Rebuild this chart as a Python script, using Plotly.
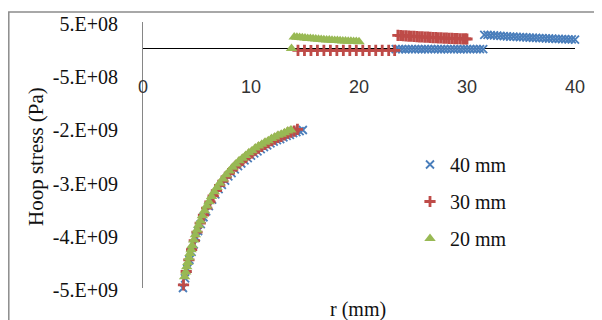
import plotly.graph_objects as go

# ---------------- data (r in mm, hoop stress in Pa) ----------------
series_names = ["40 mm", "30 mm", "20 mm"]

r_40 = [3.7, 3.9, 4.1, 4.3, 4.5, 4.7, 4.9, 5.1, 5.35, 5.6, 5.85, 6.1, 6.4, 6.7, 7.0,
        7.3, 7.6, 7.9, 8.2, 8.5, 8.8, 9.1, 9.4, 9.7, 10.0, 10.3, 10.6, 10.9, 11.2,
        11.5, 11.8, 12.1, 12.4, 12.7, 13.0, 13.3, 13.6, 13.9, 14.2, 14.5, 14.8,
        23.4, 23.7, 24.0, 24.3, 24.6, 24.9, 25.2, 25.5, 25.8, 26.1, 26.4, 26.7, 27.0,
        27.3, 27.6, 27.9, 28.2, 28.5, 28.8, 29.1, 29.4, 29.7, 30.0, 30.3, 30.6, 30.9,
        31.2, 31.5,
        31.6, 31.9, 32.2, 32.5, 32.8, 33.1, 33.4, 33.7, 34.0, 34.3, 34.6, 34.9, 35.2,
        35.5, 35.8, 36.1, 36.4, 36.7, 37.0, 37.3, 37.6, 37.9, 38.2, 38.5, 38.8, 39.1,
        39.4, 39.7, 40.0]
s_40 = [-4.50e9, -4.32e9, -4.14e9, -3.97e9, -3.82e9, -3.68e9, -3.55e9, -3.43e9, -3.30e9,
        -3.17e9, -3.06e9, -2.96e9, -2.84e9, -2.74e9, -2.64e9, -2.56e9, -2.48e9, -2.40e9,
        -2.34e9, -2.27e9, -2.21e9, -2.16e9, -2.10e9, -2.06e9, -2.01e9, -1.97e9, -1.93e9,
        -1.89e9, -1.85e9, -1.82e9, -1.78e9, -1.75e9, -1.72e9, -1.70e9, -1.67e9, -1.64e9,
        -1.62e9, -1.59e9, -1.57e9, -1.55e9, -1.53e9,
        -1.0e7, -1.1e7, -1.0e7, -1.2e7, -1.1e7, -1.0e7, -1.1e7, -1.0e7, -1.2e7, -1.1e7,
        -1.0e7, -1.1e7, -1.0e7, -1.1e7, -1.2e7, -1.0e7, -1.1e7, -1.0e7, -1.1e7, -1.0e7,
        -1.2e7, -1.1e7, -1.0e7, -1.1e7, -1.0e7, -1.1e7, -1.0e7, -1.1e7,
        2.60e8, 2.56e8, 2.51e8, 2.47e8, 2.43e8, 2.39e8, 2.35e8, 2.31e8, 2.27e8, 2.24e8,
        2.20e8, 2.17e8, 2.14e8, 2.10e8, 2.07e8, 2.04e8, 2.01e8, 1.98e8, 1.95e8, 1.92e8,
        1.90e8, 1.87e8, 1.84e8, 1.82e8, 1.79e8, 1.77e8, 1.75e8, 1.72e8, 1.70e8]

r_30 = [3.75, 4.0, 4.25, 4.5, 4.75, 5.0, 5.3, 5.6, 5.9, 6.2, 6.5, 6.8, 7.1, 7.4, 7.7,
        8.0, 8.3, 8.6, 8.9, 9.2, 9.5, 9.8, 10.1, 10.4, 10.7, 11.0, 11.3, 11.6, 11.9,
        12.2, 12.5, 12.8, 13.1, 13.4, 13.7, 14.0, 14.3,
        14.35, 14.95, 15.55, 16.15, 16.75, 17.35, 17.95, 18.55, 19.15, 19.75, 20.35,
        20.95, 21.55, 22.15, 22.75, 23.3,
        23.6, 23.85, 24.1, 24.35, 24.6, 24.85, 25.1, 25.35, 25.6, 25.85, 26.1, 26.35,
        26.6, 26.85, 27.1, 27.35, 27.6, 27.85, 28.1, 28.35, 28.6, 28.85, 29.1, 29.35,
        29.6, 29.85, 30.0]
s_30 = [-4.44e9, -4.19e9, -3.97e9, -3.78e9, -3.61e9, -3.45e9, -3.28e9, -3.13e9, -3.00e9,
        -2.88e9, -2.77e9, -2.67e9, -2.57e9, -2.49e9, -2.41e9, -2.34e9, -2.27e9, -2.21e9,
        -2.15e9, -2.10e9, -2.05e9, -2.00e9, -1.96e9, -1.91e9, -1.87e9, -1.84e9, -1.80e9,
        -1.77e9, -1.73e9, -1.70e9, -1.67e9, -1.65e9, -1.62e9, -1.59e9, -1.57e9, -1.55e9,
        -1.52e9,
        -3.5e7, -3.5e7, -3.6e7, -3.5e7, -3.4e7, -3.5e7, -3.6e7, -3.5e7, -3.4e7, -3.5e7,
        -3.5e7, -3.6e7, -3.5e7, -3.4e7, -3.5e7, -3.5e7,
        2.50e8, 2.46e8, 2.42e8, 2.39e8, 2.35e8, 2.32e8, 2.29e8, 2.26e8, 2.22e8, 2.19e8,
        2.17e8, 2.14e8, 2.11e8, 2.08e8, 2.06e8, 2.03e8, 2.01e8, 1.98e8, 1.96e8, 1.94e8,
        1.91e8, 1.89e8, 1.87e8, 1.85e8, 1.83e8, 1.81e8, 1.80e8]

r_20 = [3.85, 3.95, 4.05, 4.15, 4.25, 4.35, 4.45, 4.55, 4.7, 4.85, 5.0, 5.15, 5.3, 5.5,
        5.7, 5.9, 6.1, 6.35, 6.6, 6.85, 7.1, 7.4, 7.7, 8.0, 8.3, 8.6, 8.9, 9.2, 9.5,
        9.8, 10.1, 10.4, 10.7, 11.0, 11.3, 11.6, 11.9, 12.2, 12.5, 12.8, 13.1, 13.4, 13.7,
        13.75,
        14.0, 14.25, 14.5, 14.75, 15.0, 15.25, 15.5, 15.75, 16.0, 16.25, 16.5, 16.75,
        17.0, 17.25, 17.5, 17.75, 18.0, 18.25, 18.5, 18.75, 19.0, 19.25, 19.5, 19.75, 20.0]
s_20 = [-4.29e9, -4.20e9, -4.10e9, -4.02e9, -3.93e9, -3.85e9, -3.78e9, -3.70e9, -3.60e9,
        -3.50e9, -3.41e9, -3.32e9, -3.24e9, -3.14e9, -3.05e9, -2.96e9, -2.88e9, -2.78e9,
        -2.69e9, -2.61e9, -2.53e9, -2.45e9, -2.37e9, -2.30e9, -2.23e9, -2.17e9, -2.11e9,
        -2.06e9, -2.01e9, -1.96e9, -1.92e9, -1.87e9, -1.83e9, -1.80e9, -1.76e9, -1.73e9,
        -1.69e9, -1.66e9, -1.63e9, -1.61e9, -1.58e9, -1.55e9, -1.53e9,
        0.0,
        2.20e8, 2.14e8, 2.08e8, 2.03e8, 1.97e8, 1.92e8, 1.88e8, 1.83e8, 1.79e8, 1.75e8,
        1.71e8, 1.67e8, 1.63e8, 1.60e8, 1.57e8, 1.53e8, 1.50e8, 1.47e8, 1.45e8, 1.42e8,
        1.39e8, 1.37e8, 1.35e8, 1.32e8, 1.30e8]

x_ticks = [0, 10, 20, 30, 40]
y_ticks = [5e8, -5e8, -1.5e9, -2.5e9, -3.5e9, -4.5e9]
y_tick_labels = ["5.E+08", "-5.E+08", "-2.E+09", "-3.E+09", "-4.E+09", "-5.E+09"]

# ---------------- styling ----------------
SERIF = "Liberation Serif, Times New Roman, serif"
SANS = "Liberation Sans, Arial, sans-serif"
BLUE, RED, GREEN = "#4a7ebb", "#be4b48", "#98b954"

fig = go.Figure()
fig.add_trace(go.Scatter(
    x=r_40, y=s_40, mode="markers", name=series_names[0], legendgroup="a",
    cliponaxis=False,
    marker=dict(symbol="x-thin", size=8, color=BLUE, line=dict(color=BLUE, width=1.8))))
fig.add_trace(go.Scatter(
    x=r_30, y=s_30, mode="markers", name=series_names[1], legendgroup="b",
    cliponaxis=False,
    marker=dict(symbol="cross-thin", size=8, color=RED, line=dict(color=RED, width=2.8))))
fig.add_trace(go.Scatter(
    x=r_20, y=s_20, mode="markers", name=series_names[2], legendgroup="c",
    cliponaxis=False,
    marker=dict(symbol="triangle-up", size=10, color=GREEN, line=dict(width=0))))

# the page body adds an 8px offset; lay out in page pixels and convert
OFF = 8
W, H = 602 - OFF, 320 - OFF
L, R, T, B = 143 - OFF, 602 - 575, 22 - OFF, 320 - 288
pw, ph = W - L - R, H - T - B

def px_x(x):
    return (x - OFF - L) / pw

def px_y(y):
    return (H - B - (y - OFF)) / ph

fig.update_layout(
    width=W, height=H,
    margin=dict(l=L, r=R, t=T, b=B, autoexpand=False),
    paper_bgcolor="white", plot_bgcolor="white",
    showlegend=True,
    legend=dict(x=px_x(410), y=px_y(145), xanchor="left", yanchor="top",
                font=dict(family=SERIF, size=20, color="#111"),
                bgcolor="rgba(0,0,0,0)", tracegroupgap=8, traceorder="grouped",
                itemwidth=30),
    xaxis=dict(range=[0, 40], tickvals=x_ticks, ticktext=[str(v) for v in x_ticks],
               showgrid=False, zeroline=False, showline=False, ticks="",
               anchor="free", position=px_y(74), automargin=False,
               tickfont=dict(family=SANS, size=18, color="#333")),
    yaxis=dict(range=[-4.5e9, 5e8], tickvals=y_ticks, ticktext=y_tick_labels,
               showgrid=False, showline=True, linecolor="#868686", linewidth=1,
               zeroline=True, zerolinecolor="#000000", zerolinewidth=1,
               ticks="", ticklabelstandoff=20, ticklabelshift=2, automargin=False,
               tickfont=dict(family=SERIF, size=20, color="#111")),
    annotations=[
        dict(text="r (mm)", xref="paper", yref="paper", x=px_x(358), y=px_y(309),
             xanchor="center", yanchor="middle", showarrow=False,
             font=dict(family=SERIF, size=20, color="#111")),
        dict(text="Hoop stress (Pa)", xref="paper", yref="paper", x=px_x(36),
             y=px_y(157), xanchor="center", yanchor="middle", textangle=-90,
             showarrow=False, font=dict(family=SERIF, size=21, color="#111")),
    ],
    shapes=[dict(type="rect", xref="paper", yref="paper",
                 x0=px_x(8.8), x1=px_x(640), y0=px_y(360), y1=px_y(12),
                 line=dict(color="#8c8c8c", width=1.5), layer="below")],
)

fig.write_html("out.html")
